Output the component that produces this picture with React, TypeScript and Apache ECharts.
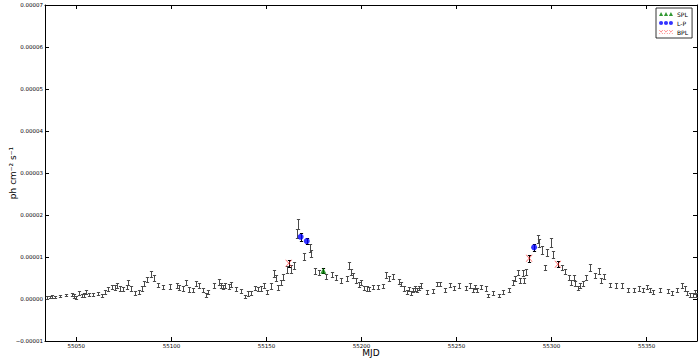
import React, { useEffect, useRef } from "react";
import * as echarts from "echarts";

// Flux values and errors are given in units of 1e-6 ph cm^-2 s^-1
const UNIT = 1e-6;

const mjd = [
  55034.6, 55036.0, 55037.4, 55038.8, 55041.2, 55044.8, 55047.6, 55049.0, 55050.0, 55051.4,
  55052.8, 55053.9, 55055.3, 55056.7, 55058.8, 55061.6, 55063.7, 55065.1, 55066.9, 55069.0,
  55070.4, 55071.4, 55072.8, 55074.6, 55076.4, 55077.4, 55078.8, 55080.9, 55083.0, 55084.4,
  55085.8, 55087.2, 55089.2, 55091.1, 55092.7, 55095.6, 55099.5, 55102.7, 55104.0, 55106.2,
  55107.9, 55109.3, 55111.1, 55113.2, 55114.6, 55116.7, 55118.1, 55119.5, 55122.3, 55124.8,
  55125.9, 55126.9, 55128.3, 55130.1, 55131.4, 55133.9, 55136.7, 55138.8, 55140.2, 55141.7,
  55143.8, 55145.5, 55146.9, 55148.7, 55150.4, 55152.2, 55154.0, 55155.0, 55156.0, 55157.5,
  55158.8, 55160.6, 55163.0, 55164.5, 55166.2, 55166.6, 55169.7, 55172.9, 55173.6, 55175.4,
  55177.8, 55181.3, 55184.3, 55186.6, 55189.4, 55192.2, 55193.6, 55194.6, 55195.7, 55197.1,
  55198.5, 55199.9, 55201.3, 55202.7, 55203.9, 55205.9, 55208.8, 55211.2, 55212.9, 55214.3,
  55216.8, 55219.6, 55221.0, 55222.4, 55223.8, 55224.9, 55225.9, 55227.0, 55228.3, 55229.4,
  55230.5, 55231.5, 55234.7, 55237.5, 55239.6, 55241.3, 55243.8, 55246.6, 55248.7, 55251.5,
  55255.0, 55257.1, 55258.6, 55259.9, 55260.7, 55263.1, 55265.6, 55266.6, 55269.4, 55272.3,
  55274.4, 55277.5, 55279.6, 55281.0, 55282.4, 55283.5, 55284.9, 55285.6, 55286.6, 55292.6,
  55293.6, 55295.0, 55296.5, 55297.8, 55299.6, 55301.0, 55305.6, 55307.3, 55309.1, 55310.2,
  55311.6, 55312.3, 55313.7, 55315.1, 55316.5, 55318.2, 55320.3, 55322.8, 55324.9, 55325.9,
  55327.7, 55330.5, 55334.0, 55337.2, 55340.3, 55343.5, 55346.0, 55348.1, 55350.2, 55351.6,
  55353.4, 55356.9, 55361.5, 55363.6, 55366.1, 55368.5, 55370.3, 55371.4, 55372.7, 55374.2,
  55375.2, 55375.9,
];

const flux = [
  0.3, 0.5, 0.6, 0.5, 0.7, 1.0, 1.1, 0.7, 0.4, 1.4,
  0.8, 0.9, 1.7, 1.0, 1.0, 1.3, 0.9, 1.7, 2.3, 2.9,
  2.8, 3.2, 2.6, 2.3, 2.8, 3.9, 2.5, 1.5, 1.7, 2.5,
  3.6, 4.7, 5.9, 5.0, 3.3, 2.8, 3.0, 3.2, 2.7, 2.5,
  3.9, 2.3, 2.2, 3.6, 3.2, 2.1, 1.0, 1.7, 3.2, 4.1,
  3.2, 2.8, 3.2, 3.0, 3.5, 2.4, 2.0, 0.6, 1.3, 1.5,
  2.6, 2.3, 2.6, 3.2, 1.7, 3.1, 6.1, 4.9, 2.7, 4.0,
  5.3, 7.1, 7.1, 7.9, 15.6, 17.8, 10.2, 12.2, 10.9, 6.7,
  6.3, 5.3, 5.9, 5.1, 4.5, 4.8, 7.9, 6.5, 5.5, 4.5,
  3.5, 4.0, 2.7, 2.5, 2.4, 2.9, 2.9, 3.1, 5.7, 4.8,
  5.3, 4.1, 3.5, 2.5, 1.7, 2.4, 1.4, 2.1, 2.5, 2.1,
  2.7, 3.3, 1.7, 1.9, 3.5, 3.5, 2.1, 3.3, 2.7, 3.2,
  2.7, 3.2, 2.1, 2.9, 2.1, 2.9, 2.5, 0.9, 1.4, 0.9,
  1.7, 2.1, 4.0, 4.8, 6.3, 4.3, 6.1, 4.5, 6.5, 14.3,
  13.3, 11.7, 7.5, 11.1, 13.5, 10.6, 7.5, 6.5, 5.1, 4.0,
  5.1, 3.7, 2.7, 3.2, 3.7, 5.1, 7.5, 5.5, 6.7, 4.5,
  5.3, 3.3, 3.2, 3.2, 2.1, 2.1, 2.5, 2.1, 2.9, 2.1,
  1.7, 2.1, 1.9, 1.4, 2.1, 3.3, 2.5, 1.5, 1.0, 1.0,
  1.7, 1.0,
];

const fluxErr = [
  0.3, 0.3, 0.3, 0.3, 0.3, 0.3, 0.4, 0.4, 0.4, 0.5,
  0.4, 0.5, 0.5, 0.4, 0.4, 0.4, 0.4, 0.5, 0.5, 0.5,
  0.6, 0.6, 0.6, 0.5, 0.5, 0.6, 0.6, 0.5, 0.5, 0.5,
  0.6, 0.6, 0.7, 0.7, 0.5, 0.5, 0.5, 0.5, 0.6, 0.5,
  0.6, 0.6, 0.5, 0.6, 0.6, 0.5, 0.5, 0.5, 0.5, 0.7,
  0.6, 0.5, 0.6, 0.5, 0.6, 0.5, 0.5, 0.4, 0.5, 0.5,
  0.5, 0.5, 0.6, 0.6, 0.5, 0.6, 0.8, 0.7, 0.6, 0.6,
  0.7, 0.8, 1.0, 0.8, 1.0, 1.2, 0.8, 0.9, 0.8, 0.7,
  0.7, 0.6, 0.6, 0.6, 0.6, 0.6, 0.8, 0.7, 0.6, 0.6,
  0.6, 0.6, 0.5, 0.5, 0.5, 0.5, 0.5, 0.5, 0.7, 0.6,
  0.6, 0.6, 0.5, 0.5, 0.5, 0.5, 0.5, 0.5, 0.5, 0.5,
  0.5, 0.6, 0.5, 0.5, 0.5, 0.5, 0.5, 0.5, 0.5, 0.5,
  0.5, 0.5, 0.5, 0.5, 0.5, 0.5, 0.5, 0.4, 0.5, 0.4,
  0.5, 0.5, 0.6, 0.6, 0.7, 0.6, 0.7, 0.6, 0.7, 0.9,
  0.9, 0.9, 0.7, 0.9, 1.0, 0.8, 0.7, 0.6, 0.6, 0.6,
  0.6, 0.5, 0.5, 0.5, 0.5, 0.6, 0.8, 0.6, 0.7, 0.6,
  0.6, 0.5, 0.5, 0.5, 0.5, 0.5, 0.5, 0.5, 0.5, 0.5,
  0.5, 0.5, 0.5, 0.5, 0.5, 0.6, 0.5, 0.5, 0.5, 0.5,
  0.5, 0.5,
];

// Spectral-model points
const splMjd = [55179.9];
const splFlux = [6.7];
const splErr = [0.6];

const lpMjd = [55168.0, 55171.2, 55290.8];
const lpFlux = [14.8, 13.8, 12.3];
const lpErr = [0.9, 0.8, 0.8];

const bplMjd = [55161.7, 55288.2, 55303.3];
const bplFlux = [8.5, 9.7, 8.3];
const bplErr = [0.8, 0.8, 0.7];

const xTicks = [55050, 55100, 55150, 55200, 55250, 55300, 55350];
const X_MIN = 55033.5;
const X_MAX = 55376.5;
const Y_MIN = -0.00001;
const Y_MAX = 0.00007;
const Y_STEP = 0.00001;

const seriesNames = ["SPL", "L-P", "BPL"];

const TRI3 = "path://M0,10L5,0L10,10Z M12,10L17,0L22,10Z M24,10L29,0L34,10Z";
const CIRC3 =
  "path://M0,5A5,5 0 1 1 10,5A5,5 0 1 1 0,5Z M12,5A5,5 0 1 1 22,5A5,5 0 1 1 12,5Z M24,5A5,5 0 1 1 34,5A5,5 0 1 1 24,5Z";
const XPATH = (o: number) =>
  `M${o},0L${o + 1.2},0L${o + 10},10L${o + 8.8},10Z M${o + 8.8},0L${o + 10},0L${o + 1.2},10L${o},10Z`;
const X3 = "path://" + XPATH(0) + " " + XPATH(12) + " " + XPATH(24);
const X1 = "path://" + XPATH(0);

function toTriples(xs: number[], ys: number[], es: number[]) {
  return xs.map((x, i) => [x, ys[i] * UNIT, es[i] * UNIT]);
}

function errorBarSeries(data: number[][], color: string, z: number) {
  return {
    type: "custom",
    z,
    silent: true,
    renderItem: (params: any, api: any) => {
      const x = api.value(0);
      const y = api.value(1);
      const e = api.value(2);
      const top = api.coord([x, y + e]);
      const bot = api.coord([x, y - e]);
      const cx = Math.round(top[0]) + 0.5;
      const ty = Math.round(top[1]) + 0.5;
      const by = Math.round(bot[1]) + 0.5;
      const cap = 1.6;
      const st = { stroke: color, lineWidth: 1 };
      return {
        type: "group",
        children: [
          { type: "line", shape: { x1: cx, y1: ty, x2: cx, y2: by }, style: st },
          { type: "line", shape: { x1: cx - cap, y1: ty, x2: cx + cap, y2: ty }, style: st },
          { type: "line", shape: { x1: cx - cap, y1: by, x2: cx + cap, y2: by }, style: st },
        ],
      };
    },
    encode: { x: 0, y: 1 },
    data,
  };
}

function fmtY(v: number) {
  const s = v.toFixed(5);
  return s.startsWith("-") ? "\u2212" + s.slice(1) : s;
}

export default function App() {
  const ref = useRef<HTMLDivElement>(null);

  useEffect(() => {
    if (!ref.current) return;
    const chart = echarts.init(ref.current, undefined, { renderer: "svg" });
    const font = "DejaVu Sans";
    const axisLine = { onZero: false, lineStyle: { color: "#000", width: 1 } };
    const tick = { inside: true, length: 4, lineStyle: { color: "#000", width: 1 } };

    const option: any = {
      animation: false,
      backgroundColor: "#fff",
      textStyle: { fontFamily: font },
      grid: {
        left: 45,
        right: 3,
        top: 5,
        bottom: 21,
        containLabel: false,
        outerBoundsMode: "none",
      },
      legend: {
        orient: "vertical",
        left: 656,
        top: 8,
        padding: [3, 4, 3, 3],
        itemGap: 3,
        itemWidth: 14,
        itemHeight: 5,
        borderColor: "#000",
        borderWidth: 0.8,
        backgroundColor: "#fff",
        textStyle: { fontSize: 6, color: "#000", fontFamily: font, padding: [0, 0, 0, -1] },
        data: [
          { name: "SPL", icon: TRI3, itemStyle: { color: "#008000" } },
          { name: "L-P", icon: CIRC3, itemStyle: { color: "#0000ff" } },
          { name: "BPL", icon: X3, itemStyle: { color: "#ff0000" } },
        ],
      },
      xAxis: [
        {
          type: "value",
          min: X_MIN,
          max: X_MAX,
          name: "MJD",
          nameLocation: "middle",
          nameGap: 7,
          nameMoveOverlap: false,
          nameTextStyle: { fontSize: 9, color: "#000", fontFamily: font, verticalAlign: "top" },
          axisLine,
          axisTick: { ...tick, customValues: xTicks },
          axisLabel: {
            customValues: xTicks,
            fontSize: 5.5,
            color: "#000",
            margin: 2,
            fontFamily: font,
            formatter: (v: number) => String(Math.round(v)),
          },
          splitLine: { show: false },
        },
        {
          type: "value",
          position: "top",
          min: X_MIN,
          max: X_MAX,
          axisLine,
          axisTick: { ...tick, customValues: xTicks },
          axisLabel: { show: false, customValues: xTicks },
          splitLine: { show: false },
        },
      ],
      yAxis: [
        {
          type: "value",
          min: Y_MIN,
          max: Y_MAX,
          interval: Y_STEP,
          name: "ph cm\u207B\u00B2 s\u207B\u00B9",
          nameLocation: "middle",
          nameRotate: 90,
          nameGap: 28,
          nameMoveOverlap: false,
          nameTextStyle: { fontSize: 9, color: "#000", fontFamily: font },
          axisLine,
          axisTick: tick,
          axisLabel: { fontSize: 5.5, color: "#000", margin: 2, fontFamily: font, formatter: fmtY },
          splitLine: { show: false },
        },
        {
          type: "value",
          position: "right",
          min: Y_MIN,
          max: Y_MAX,
          interval: Y_STEP,
          axisLine,
          axisTick: tick,
          axisLabel: { show: false },
          splitLine: { show: false },
        },
      ],
      series: [
        errorBarSeries(toTriples(mjd, flux, fluxErr), "#4a4a4a", 2),
        errorBarSeries(toTriples(splMjd, splFlux, splErr), "#000", 3),
        errorBarSeries(toTriples(lpMjd, lpFlux, lpErr), "#000", 3),
        errorBarSeries(toTriples(bplMjd, bplFlux, bplErr), "#000", 3),
        {
          name: seriesNames[0],
          type: "scatter",
          z: 5,
          symbol: "triangle",
          symbolSize: 6,
          itemStyle: { color: "#008000" },
          data: splMjd.map((m, i) => [m, splFlux[i] * UNIT]),
        },
        {
          name: seriesNames[1],
          type: "scatter",
          z: 5,
          symbol: "circle",
          symbolSize: 6,
          itemStyle: { color: "#0000ff" },
          data: lpMjd.map((m, i) => [m, lpFlux[i] * UNIT]),
        },
        {
          name: seriesNames[2],
          type: "scatter",
          z: 5,
          symbol: X1,
          symbolSize: 7,
          itemStyle: { color: "#ff3030", opacity: 0.8 },
          data: bplMjd.map((m, i) => [m, bplFlux[i] * UNIT]),
        },
      ],
    };

    chart.setOption(option);
    return () => chart.dispose();
  }, []);

  return (
    <div
      ref={ref}
      style={{ position: "fixed", left: 0, top: 0, width: 700, height: 362, background: "#fff" }}
    />
  );
}
